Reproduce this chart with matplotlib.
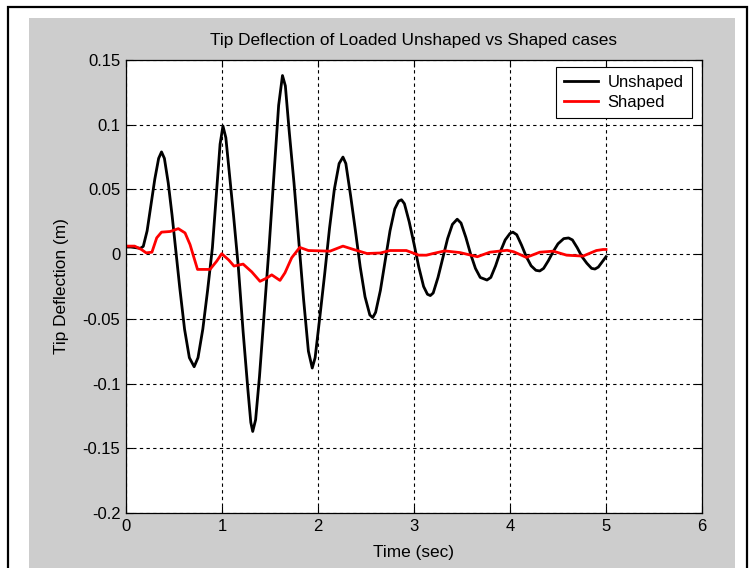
import numpy as np
from matplotlib import pyplot as plt
from matplotlib.patches import Rectangle

# unshaped response (time in s, deflection in m)
t_unshaped = [0, 0.05, 0.10, 0.15, 0.18,
              0.22, 0.26, 0.30, 0.34, 0.37, 0.40,
              0.44, 0.48, 0.52, 0.56, 0.61, 0.66, 0.71, 0.75,
              0.80, 0.85, 0.90, 0.94, 0.98, 1.01, 1.04,
              1.08, 1.12, 1.17, 1.22, 1.27, 1.30, 1.32, 1.35,
              1.39, 1.44, 1.49, 1.54, 1.59, 1.63, 1.66,
              1.70, 1.75, 1.80, 1.85, 1.90, 1.94, 1.97,
              2.02, 2.07, 2.12, 2.17, 2.22, 2.26, 2.29,
              2.34, 2.39, 2.44, 2.49, 2.54, 2.57, 2.60,
              2.65, 2.70, 2.75, 2.80, 2.84, 2.87, 2.90,
              2.95, 3.00, 3.05, 3.10, 3.14, 3.17, 3.20,
              3.25, 3.30, 3.35, 3.40, 3.45, 3.49,
              3.54, 3.59, 3.64, 3.69, 3.76, 3.80,
              3.85, 3.90, 3.95, 4.00, 4.03, 4.07,
              4.12, 4.17, 4.22, 4.27, 4.31, 4.35,
              4.40, 4.45, 4.50, 4.56, 4.61, 4.65,
              4.70, 4.75, 4.80, 4.85, 4.885, 4.92, 4.96, 5.0]
y_unshaped = [0.0055, 0.0055, 0.005, 0.0045, 0.006,
              0.018, 0.038, 0.058, 0.074, 0.079, 0.074,
              0.055, 0.030, 0.002, -0.026, -0.058, -0.080, -0.087, -0.080,
              -0.058, -0.028, 0.005, 0.045, 0.085, 0.099, 0.090,
              0.060, 0.030, -0.010, -0.060, -0.105, -0.130, -0.137, -0.128,
              -0.095, -0.045, 0.005, 0.060, 0.115, 0.138, 0.130,
              0.095, 0.055, 0.010, -0.035, -0.075, -0.088, -0.080,
              -0.048, -0.015, 0.020, 0.050, 0.070, 0.075, 0.070,
              0.045, 0.018, -0.010, -0.033, -0.047, -0.049, -0.045,
              -0.028, -0.005, 0.018, 0.035, 0.041, 0.042, 0.039,
              0.025, 0.008, -0.010, -0.025, -0.031, -0.032, -0.030,
              -0.018, -0.003, 0.012, 0.023, 0.027, 0.024,
              0.013, 0.000, -0.011, -0.018, -0.020, -0.018,
              -0.009, 0.002, 0.011, 0.016, 0.017, 0.015,
              0.007, -0.002, -0.009, -0.0125, -0.013, -0.011,
              -0.005, 0.002, 0.008, 0.012, 0.0125, 0.011,
              0.005, -0.002, -0.007, -0.011, -0.0115, -0.010, -0.006, -0.002]

# shaped response
t_shaped = [0, 0.09, 0.16, 0.21, 0.27, 0.32, 0.37, 0.46, 0.545, 0.615,
            0.667, 0.745, 0.875, 0.945, 0.997, 1.07, 1.125, 1.22, 1.31, 1.396,
            1.465, 1.518, 1.604, 1.656, 1.726, 1.81, 1.90, 1.99, 2.125, 2.26,
            2.37, 2.51, 2.65, 2.75, 2.92, 3.05, 3.13, 3.20, 3.32, 3.48,
            3.66, 3.79, 3.97, 4.04, 4.17, 4.31, 4.45, 4.59, 4.76, 4.90,
            4.97, 5.0]
y_shaped = [0.0062, 0.0062, 0.0036, 0.001, 0.0015, 0.0126, 0.017, 0.0175, 0.0197, 0.0164,
            0.0074, -0.0118, -0.0118, -0.0054, 0.0003, -0.0045, -0.0092, -0.0077, -0.0137, -0.021,
            -0.0185, -0.016, -0.0203, -0.0144, -0.0028, 0.0052, 0.0028, 0.0026, 0.0023, 0.0062,
            0.0036, 0.0005, 0.0009, 0.0028, 0.0028, -0.0008, -0.0008, 0.0005, 0.0025, 0.0012,
            -0.002, 0.0015, 0.003, 0.0018, -0.0025, 0.0015, 0.0023, -0.0008, -0.0015, 0.0028,
            0.0036, 0.0036]

xticks = [0, 1, 2, 3, 4, 5, 6]
yticks = [-0.2, -0.15, -0.1, -0.05, 0, 0.05, 0.1, 0.15]
ytick_labels = ["-0.2", "-0.15", "-0.1", "-0.05", "0", "0.05", "0.1", "0.15"]

plt.rcParams['font.family'] = ['Liberation Sans', 'DejaVu Sans']
W, H = 752, 568
fig = plt.figure(figsize=(W / 100, H / 100), dpi=100, facecolor='white')

# matlab style grey figure panel and outer frame
fig.patches.append(Rectangle((29 / W, -0.01), (735 - 29) / W, 1 - 18 / H + 0.01,
                             transform=fig.transFigure, facecolor='#cdcdcd',
                             edgecolor='none', zorder=-2))
fig.patches.append(Rectangle((8 / W, -0.05), (747 - 8) / W, 1 - 7 / H + 0.05,
                             transform=fig.transFigure, facecolor='none',
                             edgecolor='black', lw=1.6, zorder=-1))

ax = fig.add_axes([126 / W, 1 - 513 / H, (702 - 126) / W, (513 - 60) / H])
ax.set_zorder(1)
ax.set_facecolor('white')
ax.plot(t_unshaped, y_unshaped, color='black', lw=2.0, label='Unshaped')
ax.plot(t_shaped, y_shaped, color='red', lw=2.0, label='Shaped')

ax.set_xlim(0, 6)
ax.set_ylim(-0.2, 0.15)
ax.set_xticks(xticks)
ax.set_yticks(yticks)
ax.set_yticklabels(ytick_labels)
ax.tick_params(direction='in', length=5, width=0.8, top=True, right=True,
               labelsize=12, pad=4, colors='black')
ax.grid(True, linestyle=(0, (3, 3)), color='black', lw=0.8)
for s in ax.spines.values():
    s.set_linewidth(0.9)

fig.text(414 / W, 1 - 40 / H, "Tip Deflection of Loaded Unshaped vs Shaped cases",
         ha='center', va='center', fontsize=12.4)
fig.text(414 / W, 1 - 552 / H, "Time (sec)", ha='center', va='center', fontsize=12.4)
fig.text(62 / W, 1 - 286 / H, "Tip Deflection (m)", ha='center', va='center',
         rotation=90, fontsize=12.4)

leg = ax.legend(loc='upper right', bbox_to_anchor=(692 / W, 1 - 67 / H),
                bbox_transform=fig.transFigure, borderaxespad=0, fancybox=False,
                framealpha=1, edgecolor='black', fontsize=12, handlelength=2.0,
                handletextpad=0.6, borderpad=0.5, labelspacing=0.25)
leg.get_frame().set_linewidth(0.8)

plt.savefig('out.png', dpi=100)
